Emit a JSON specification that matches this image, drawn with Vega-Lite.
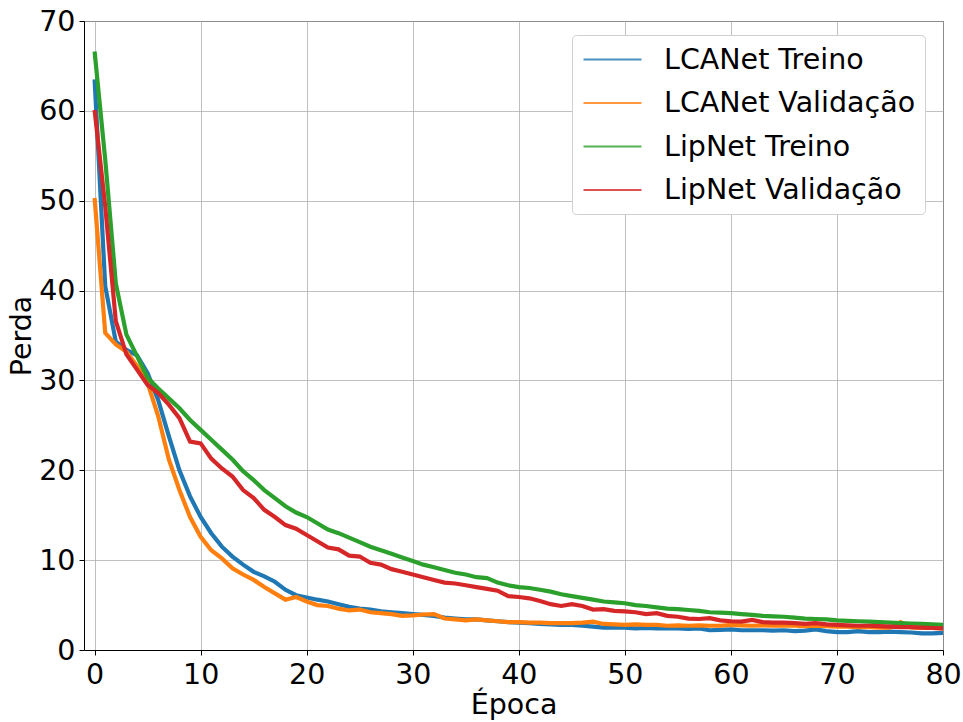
{
  "$schema": "https://vega.github.io/schema/vega-lite/v6.json",
  "autosize": "none",
  "width": 859,
  "height": 629,
  "padding": {"left": 84, "top": 21, "right": 20, "bottom": 72},
  "background": "white",
  "config": {
    "font": "DejaVu Sans",
    "view": {"stroke": "black", "strokeWidth": 1},
    "axis": {
      "labelFont": "DejaVu Sans", "labelFontSize": 28.5, "labelColor": "black",
      "titleFont": "DejaVu Sans", "titleFontSize": 28.5, "titleFontWeight": "normal", "titleColor": "black",
      "tickColor": "black", "tickSize": 5, "tickWidth": 1,
      "domainColor": "black", "domainWidth": 1,
      "gridColor": "#b0b0b0", "gridWidth": 0.8, "gridOpacity": 1
    }
  },
  "data": {"values": [
    {"epoch":0,"LCANet Treino":63.5,"LCANet Validação":50.3,"LipNet Treino":66.6,"LipNet Validação":60.1},
    {"epoch":1,"LCANet Treino":40.5,"LCANet Validação":35.3,"LipNet Treino":54.6,"LipNet Validação":49.4},
    {"epoch":2,"LCANet Treino":34.3,"LCANet Validação":34.0,"LipNet Treino":40.8,"LipNet Validação":36.6},
    {"epoch":3,"LCANet Treino":33.4,"LCANet Validação":33.2,"LipNet Treino":35.1,"LipNet Validação":32.9},
    {"epoch":4,"LCANet Treino":32.8,"LCANet Validação":31.6,"LipNet Treino":32.7,"LipNet Validação":31.2},
    {"epoch":5,"LCANet Treino":30.8,"LCANet Validação":29.7,"LipNet Treino":30.3,"LipNet Validação":29.5},
    {"epoch":6,"LCANet Treino":27.8,"LCANet Validação":26.0,"LipNet Treino":29.1,"LipNet Validação":28.6},
    {"epoch":7,"LCANet Treino":23.8,"LCANet Validação":21.2,"LipNet Treino":28.0,"LipNet Validação":27.3},
    {"epoch":8,"LCANet Treino":20.0,"LCANet Validação":17.8,"LipNet Treino":26.9,"LipNet Validação":25.8},
    {"epoch":9,"LCANet Treino":17.1,"LCANet Validação":14.8,"LipNet Treino":25.6,"LipNet Validação":23.2},
    {"epoch":10,"LCANet Treino":14.8,"LCANet Validação":12.6,"LipNet Treino":24.5,"LipNet Validação":23.0},
    {"epoch":11,"LCANet Treino":13.0,"LCANet Validação":11.1,"LipNet Treino":23.4,"LipNet Validação":21.3},
    {"epoch":12,"LCANet Treino":11.5,"LCANet Validação":10.2,"LipNet Treino":22.3,"LipNet Validação":20.2},
    {"epoch":13,"LCANet Treino":10.4,"LCANet Validação":9.1,"LipNet Treino":21.2,"LipNet Validação":19.3},
    {"epoch":14,"LCANet Treino":9.5,"LCANet Validação":8.4,"LipNet Treino":19.9,"LipNet Validação":17.8},
    {"epoch":15,"LCANet Treino":8.7,"LCANet Validação":7.8,"LipNet Treino":18.9,"LipNet Validação":16.9},
    {"epoch":16,"LCANet Treino":8.2,"LCANet Validação":7.0,"LipNet Treino":17.8,"LipNet Validação":15.6},
    {"epoch":17,"LCANet Treino":7.6,"LCANet Validação":6.3,"LipNet Treino":16.9,"LipNet Validação":14.8},
    {"epoch":18,"LCANet Treino":6.7,"LCANet Validação":5.6,"LipNet Treino":16.0,"LipNet Validação":13.9},
    {"epoch":19,"LCANet Treino":6.1,"LCANet Validação":5.9,"LipNet Treino":15.3,"LipNet Validação":13.5},
    {"epoch":20,"LCANet Treino":5.85,"LCANet Validação":5.4,"LipNet Treino":14.8,"LipNet Validação":12.8},
    {"epoch":21,"LCANet Treino":5.6,"LCANet Validação":5.0,"LipNet Treino":14.1,"LipNet Validação":12.1},
    {"epoch":22,"LCANet Treino":5.4,"LCANet Validação":4.9,"LipNet Treino":13.4,"LipNet Validação":11.4},
    {"epoch":23,"LCANet Treino":5.1,"LCANet Validação":4.6,"LipNet Treino":13.0,"LipNet Validação":11.2},
    {"epoch":24,"LCANet Treino":4.8,"LCANet Validação":4.4,"LipNet Treino":12.5,"LipNet Validação":10.5},
    {"epoch":25,"LCANet Treino":4.6,"LCANet Validação":4.5,"LipNet Treino":12.0,"LipNet Validação":10.4},
    {"epoch":26,"LCANet Treino":4.5,"LCANet Validação":4.2,"LipNet Treino":11.5,"LipNet Validação":9.7},
    {"epoch":27,"LCANet Treino":4.3,"LCANet Validação":4.1,"LipNet Treino":11.1,"LipNet Validação":9.5},
    {"epoch":28,"LCANet Treino":4.2,"LCANet Validação":4.0,"LipNet Treino":10.7,"LipNet Validação":9.0},
    {"epoch":29,"LCANet Treino":4.1,"LCANet Validação":3.8,"LipNet Treino":10.3,"LipNet Validação":8.7},
    {"epoch":30,"LCANet Treino":4.0,"LCANet Validação":3.85,"LipNet Treino":9.9,"LipNet Validação":8.4},
    {"epoch":31,"LCANet Treino":3.9,"LCANet Validação":3.95,"LipNet Treino":9.5,"LipNet Validação":8.1},
    {"epoch":32,"LCANet Treino":3.8,"LCANet Validação":4.0,"LipNet Treino":9.2,"LipNet Validação":7.8},
    {"epoch":33,"LCANet Treino":3.6,"LCANet Validação":3.5,"LipNet Treino":8.9,"LipNet Validação":7.5},
    {"epoch":34,"LCANet Treino":3.5,"LCANet Validação":3.4,"LipNet Treino":8.6,"LipNet Validação":7.4},
    {"epoch":35,"LCANet Treino":3.4,"LCANet Validação":3.3,"LipNet Treino":8.4,"LipNet Validação":7.2},
    {"epoch":36,"LCANet Treino":3.4,"LCANet Validação":3.4,"LipNet Treino":8.1,"LipNet Validação":7.0},
    {"epoch":37,"LCANet Treino":3.3,"LCANet Validação":3.3,"LipNet Treino":8.0,"LipNet Validação":6.8},
    {"epoch":38,"LCANet Treino":3.2,"LCANet Validação":3.2,"LipNet Treino":7.5,"LipNet Validação":6.6},
    {"epoch":39,"LCANet Treino":3.1,"LCANet Validação":3.1,"LipNet Treino":7.2,"LipNet Validação":6.0},
    {"epoch":40,"LCANet Treino":3.05,"LCANet Validação":3.1,"LipNet Treino":7.0,"LipNet Validação":5.9},
    {"epoch":41,"LCANet Treino":3.0,"LCANet Validação":3.05,"LipNet Treino":6.9,"LipNet Validação":5.75},
    {"epoch":42,"LCANet Treino":2.9,"LCANet Validação":3.05,"LipNet Treino":6.7,"LipNet Validação":5.45},
    {"epoch":43,"LCANet Treino":2.85,"LCANet Validação":3.0,"LipNet Treino":6.5,"LipNet Validação":5.1},
    {"epoch":44,"LCANet Treino":2.8,"LCANet Validação":3.0,"LipNet Treino":6.2,"LipNet Validação":4.9},
    {"epoch":45,"LCANet Treino":2.8,"LCANet Validação":3.0,"LipNet Treino":6.0,"LipNet Validação":5.1},
    {"epoch":46,"LCANet Treino":2.7,"LCANet Validação":3.05,"LipNet Treino":5.8,"LipNet Validação":4.9},
    {"epoch":47,"LCANet Treino":2.6,"LCANet Validação":3.15,"LipNet Treino":5.6,"LipNet Validação":4.5},
    {"epoch":48,"LCANet Treino":2.5,"LCANet Validação":2.9,"LipNet Treino":5.4,"LipNet Validação":4.55},
    {"epoch":49,"LCANet Treino":2.5,"LCANet Validação":2.85,"LipNet Treino":5.3,"LipNet Validação":4.35},
    {"epoch":50,"LCANet Treino":2.5,"LCANet Validação":2.8,"LipNet Treino":5.2,"LipNet Validação":4.3},
    {"epoch":51,"LCANet Treino":2.4,"LCANet Validação":2.85,"LipNet Treino":5.0,"LipNet Validação":4.2},
    {"epoch":52,"LCANet Treino":2.45,"LCANet Validação":2.8,"LipNet Treino":4.9,"LipNet Validação":4.0},
    {"epoch":53,"LCANet Treino":2.4,"LCANet Validação":2.8,"LipNet Treino":4.75,"LipNet Validação":4.1},
    {"epoch":54,"LCANet Treino":2.4,"LCANet Validação":2.7,"LipNet Treino":4.6,"LipNet Validação":3.8},
    {"epoch":55,"LCANet Treino":2.4,"LCANet Validação":2.75,"LipNet Treino":4.55,"LipNet Validação":3.7},
    {"epoch":56,"LCANet Treino":2.35,"LCANet Validação":2.7,"LipNet Treino":4.45,"LipNet Validação":3.5},
    {"epoch":57,"LCANet Treino":2.4,"LCANet Validação":2.75,"LipNet Treino":4.35,"LipNet Validação":3.45},
    {"epoch":58,"LCANet Treino":2.2,"LCANet Validação":2.7,"LipNet Treino":4.2,"LipNet Validação":3.55},
    {"epoch":59,"LCANet Treino":2.25,"LCANet Validação":2.7,"LipNet Treino":4.15,"LipNet Validação":3.3},
    {"epoch":60,"LCANet Treino":2.3,"LCANet Validação":2.8,"LipNet Treino":4.1,"LipNet Validação":3.2},
    {"epoch":61,"LCANet Treino":2.2,"LCANet Validação":2.75,"LipNet Treino":4.0,"LipNet Validação":3.15},
    {"epoch":62,"LCANet Treino":2.2,"LCANet Validação":2.7,"LipNet Treino":3.9,"LipNet Validação":3.35},
    {"epoch":63,"LCANet Treino":2.2,"LCANet Validação":2.75,"LipNet Treino":3.8,"LipNet Validação":3.1},
    {"epoch":64,"LCANet Treino":2.15,"LCANet Validação":2.7,"LipNet Treino":3.75,"LipNet Validação":3.05},
    {"epoch":65,"LCANet Treino":2.2,"LCANet Validação":2.75,"LipNet Treino":3.7,"LipNet Validação":3.05},
    {"epoch":66,"LCANet Treino":2.1,"LCANet Validação":2.7,"LipNet Treino":3.6,"LipNet Validação":3.0},
    {"epoch":67,"LCANet Treino":2.15,"LCANet Validação":2.65,"LipNet Treino":3.5,"LipNet Validação":2.9},
    {"epoch":68,"LCANet Treino":2.3,"LCANet Validação":2.7,"LipNet Treino":3.45,"LipNet Validação":3.0},
    {"epoch":69,"LCANet Treino":2.1,"LCANet Validação":2.65,"LipNet Treino":3.4,"LipNet Validação":2.85},
    {"epoch":70,"LCANet Treino":2.0,"LCANet Validação":2.6,"LipNet Treino":3.3,"LipNet Validação":2.8},
    {"epoch":71,"LCANet Treino":2.0,"LCANet Validação":2.6,"LipNet Treino":3.25,"LipNet Validação":2.75},
    {"epoch":72,"LCANet Treino":2.1,"LCANet Validação":2.55,"LipNet Treino":3.2,"LipNet Validação":2.7},
    {"epoch":73,"LCANet Treino":2.0,"LCANet Validação":2.55,"LipNet Treino":3.15,"LipNet Validação":2.7},
    {"epoch":74,"LCANet Treino":2.0,"LCANet Validação":2.5,"LipNet Treino":3.1,"LipNet Validação":2.65},
    {"epoch":75,"LCANet Treino":2.05,"LCANet Validação":2.5,"LipNet Treino":3.05,"LipNet Validação":2.6},
    {"epoch":76,"LCANet Treino":2.0,"LCANet Validação":3.1,"LipNet Treino":3.0,"LipNet Validação":2.55},
    {"epoch":77,"LCANet Treino":1.95,"LCANet Validação":2.5,"LipNet Treino":2.95,"LipNet Validação":2.55},
    {"epoch":78,"LCANet Treino":1.85,"LCANet Validação":2.45,"LipNet Treino":2.9,"LipNet Validação":2.5},
    {"epoch":79,"LCANet Treino":1.85,"LCANet Validação":2.45,"LipNet Treino":2.85,"LipNet Validação":2.45},
    {"epoch":80,"LCANet Treino":1.9,"LCANet Validação":2.4,"LipNet Treino":2.8,"LipNet Validação":2.4}
  ]},
  "transform": [
    {"fold": ["LCANet Treino", "LCANet Validação", "LipNet Treino", "LipNet Validação"], "as": ["serie", "perda"]}
  ],
  "mark": {"type": "line", "strokeWidth": 4.2, "clip": true},
  "encoding": {
    "x": {
      "field": "epoch", "type": "quantitative", "title": "Época",
      "scale": {"domain": [-1, 80], "nice": false, "zero": false},
      "axis": {"values": [0,10,20,30,40,50,60,70,80], "labelPadding": 5, "titlePadding": 2, "labelFlush": false}
    },
    "y": {
      "field": "perda", "type": "quantitative", "title": "Perda",
      "scale": {"domain": [0, 70], "nice": false},
      "axis": {"values": [0,10,20,30,40,50,60,70], "labelPadding": 4, "titlePadding": 2, "labelFlush": false}
    },
    "color": {
      "field": "serie", "type": "nominal",
      "scale": {
        "domain": ["LCANet Treino", "LCANet Validação", "LipNet Treino", "LipNet Validação"],
        "range": ["#1f77b4", "#ff7f0e", "#2ca02c", "#d62728"]
      },
      "legend": {
        "title": null, "orient": "none", "legendX": 488, "legendY": 14,
        "symbolType": "M-2.07,0H2.07", "symbolSize": 784, "symbolStrokeWidth": 2.2, "symbolOpacity": 0.8,
        "symbolFillColor": "transparent", "symbolOffset": 16,
        "labelFont": "DejaVu Sans", "labelFontSize": 28.5, "labelColor": "black", "labelLimit": 400,
        "labelOffset": 36, "rowPadding": 13.5,
        "padding": 9, "fillColor": "white", "strokeColor": "#d0d0d0", "cornerRadius": 4
      }
    },
    "order": {"field": "epoch", "type": "quantitative"}
  }
}
